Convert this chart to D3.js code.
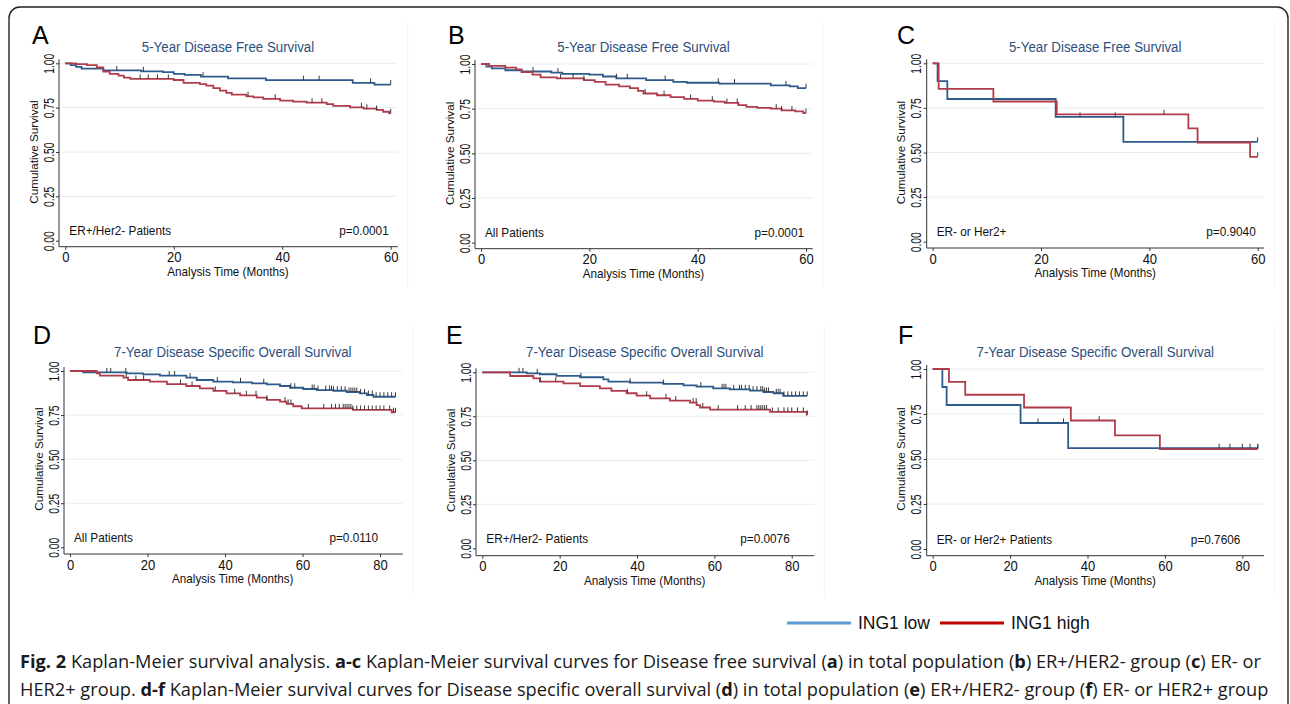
<!DOCTYPE html>
<html>
<head>
<meta charset="utf-8">
<script src="https://cdn.jsdelivr.net/npm/d3@7"></script>
<style>
body { margin: 0; background: #fff; }
svg { display: block; font-family: Arial, "Liberation Sans", sans-serif; }
</style>
</head>
<body>
<svg id="fig" width="1290" height="704"></svg>
<script>
// ---- data: step points [month, survival] and censor times ----
var aLow = [[0,1],[1,0.99],[2,0.98],[3,0.97],[7,0.96],[14,0.955],[18,0.95],[20,0.94],[22,0.935],[25,0.925],[30,0.915],[37,0.905],[53,0.89],[57,0.88]];
var aLowCens = [9.5,14.4,25.4,43.9,46.8,56.3,60];
var aHigh = [[0,1],[2,0.995],[4,0.99],[5.8,0.977],[7,0.953],[8.2,0.94],[9.8,0.93],[10.8,0.919],[12,0.912],[20,0.906],[21.8,0.89],[24.8,0.883],[26,0.874],[27.3,0.86],[28.5,0.846],[29.7,0.833],[30.7,0.823],[33.4,0.814],[34.7,0.808],[36.5,0.8],[39.6,0.79],[42,0.784],[44.5,0.778],[48.2,0.77],[49.4,0.76],[52.5,0.752],[55,0.744],[57.4,0.737],[58.6,0.727],[59.7,0.718]];
var aHighCens = [13.8,15.3,17,19,33.7,38.7,45.5,47.3,54.6,55.6,57.4,60];

var bLow = [[0,1],[1,0.985],[2,0.975],[4.5,0.965],[7.5,0.958],[13,0.952],[15,0.945],[20,0.94],[22.5,0.93],[25,0.92],[30.5,0.91],[35.5,0.9],[38,0.895],[44,0.89],[53.5,0.88],[57,0.875],[58.5,0.865]];
var bLowCens = [9.6,14.2,25,27,34,43.8,46.8,56.3,60];
var bHigh = [[0,1],[1.5,0.99],[4.5,0.98],[6.5,0.97],[7.5,0.955],[9.5,0.94],[11,0.925],[14,0.92],[19,0.91],[21,0.9],[23,0.885],[25.5,0.875],[27.5,0.865],[29,0.85],[30,0.835],[32.5,0.825],[35,0.815],[37.5,0.805],[40,0.795],[43,0.79],[45,0.782],[47.5,0.77],[49,0.76],[51,0.755],[53.5,0.75],[55.5,0.74],[58,0.735],[59.5,0.725]];
var bHighCens = [14.7,17,19,30.3,33.8,38.7,42.7,45.4,47.3,54.5,55.5,57.4,60];

var cLow = [[0,1],[0.9,0.9],[2.7,0.8],[22.7,0.7],[35.2,0.56]];
var cLowCens = [27.2,33.7,60];
var cHigh = [[0,1],[1.1,0.857],[11.2,0.786],[22.9,0.714],[47.2,0.635],[48.9,0.556],[58.6,0.476]];
var cHighCens = [42.7,60];

var dLow = [[0,1],[3.4,0.992],[14.6,0.987],[18.9,0.981],[23.2,0.974],[30,0.962],[32.7,0.949],[37,0.94],[42,0.936],[47,0.93],[50.8,0.924],[54.2,0.915],[56.8,0.905],[60.2,0.898],[63.7,0.892],[68,0.888],[71.4,0.881],[74.8,0.873],[76.6,0.864],[78.3,0.854]];
var dLowCens = [9.5,10.5,14.4,25.6,27,31,38,44,50,57,58,62.5,63,64,66,67,67.5,68,69,70,71,72,72.5,73,73.5,74,75,76,77,78,79,80,81,82,83,84];
var dHigh = [[0,1],[6.9,0.987],[7.7,0.974],[13.8,0.962],[15,0.949],[20.6,0.94],[25,0.926],[30,0.915],[33.5,0.902],[37,0.887],[40.4,0.873],[43.9,0.862],[48.2,0.849],[50.8,0.836],[54.2,0.826],[55.9,0.813],[57.6,0.8],[59.8,0.788],[73,0.779],[83,0.766]];
var dHighCens = [14.5,17,19,28.5,31.5,37.5,42.5,45.5,48,50.8,55.5,56.3,57,61.5,65.5,67.5,68.5,69.5,70.5,71,71.5,72,72.5,73,74,75,76,77,78,79,80,81,82.5,83.5,84];

var eLow = [[0,1],[11.5,0.994],[14.9,0.989],[19.2,0.98],[25.3,0.972],[31.3,0.96],[32.6,0.947],[38.2,0.941],[46.8,0.934],[52,0.926],[55.4,0.919],[59.7,0.909],[64,0.903],[69.2,0.896],[72.7,0.888],[75.3,0.881],[77.8,0.866]];
var eLowCens = [9.5,10.5,14.2,25.5,38.2,46.8,56.5,62,62.5,63,65,66.5,67,68,69,70,71,72,72.5,73,73.5,74,76,76.5,77,78,79,80,81,82,83,84];
var eHigh = [[0,1],[7.2,0.979],[13.2,0.966],[14.9,0.947],[21,0.9375],[25.3,0.922],[30.4,0.909],[33.4,0.894],[37.3,0.881],[39.9,0.867],[43.4,0.852],[48.5,0.839],[53.7,0.828],[55.4,0.814],[56.3,0.8],[58.9,0.788],[74.4,0.775],[83.9,0.758]];
var eHighCens = [15,19,37.5,42.5,47.5,50,54.5,55.3,57,61,66,68,69.5,71,71.5,72,72.5,73,73.5,75,76.5,78,79,80,81.5,83,84];

var fLow = [[0,1],[2.5,0.9],[3.6,0.8],[22.7,0.7],[35,0.56]];
var fLowCens = [27.2,33.8,74,76.8,80,82,84];
var fHigh = [[0,1],[4.2,0.929],[8.4,0.857],[23.6,0.786],[35.7,0.714],[47.1,0.631],[58.7,0.555]];
var fHighCens = [43,84];

var yTicks = [0, 0.25, 0.5, 0.75, 1];
var xTicks5 = [0, 20, 40, 60];
var xTicks7 = [0, 20, 40, 60, 80];
var titles = ["5-Year Disease Free Survival", "7-Year Disease Specific Overall Survival"];
var legendLabels = ["ING1 low", "ING1 high"];

var panels = [
	{ id: "A", title: titles[0], note: "ER+/Her2- Patients", p: "p=0.0001", xMax: 60, pAt: 60, xTicks: xTicks5, low: aLow, lowCens: aLowCens, high: aHigh, highCens: aHighCens },
	{ id: "B", title: titles[0], note: "All Patients", p: "p=0.0001", xMax: 60, pAt: 60, xTicks: xTicks5, low: bLow, lowCens: bLowCens, high: bHigh, highCens: bHighCens },
	{ id: "C", title: titles[0], note: "ER- or Her2+", p: "p=0.9040", xMax: 60, pAt: 60, xTicks: xTicks5, low: cLow, lowCens: cLowCens, high: cHigh, highCens: cHighCens },
	{ id: "D", title: titles[1], note: "All Patients", p: "p=0.0110", xMax: 84, pAt: 80, xTicks: xTicks7, low: dLow, lowCens: dLowCens, high: dHigh, highCens: dHighCens },
	{ id: "E", title: titles[1], note: "ER+/Her2- Patients", p: "p=0.0076", xMax: 84, pAt: 80, xTicks: xTicks7, low: eLow, lowCens: eLowCens, high: eHigh, highCens: eHighCens },
	{ id: "F", title: titles[1], note: "ER- or Her2+ Patients", p: "p=0.7606", xMax: 84, pAt: 80, xTicks: xTicks7, low: fLow, lowCens: fLowCens, high: fHigh, highCens: fHighCens }
];

// ---- layout (pixel frames of each panel) ----
var frames = {
	A: { axisX: 59,    x0: 65.3,  x1: 390.7,  right: 397.7, y1: 63.3,  y0: 240.7, axisY: 246.7, titleY: 52.3,  letter: [32, 44] },
	B: { axisX: 475,   x0: 481,   x1: 806,    right: 812.7, y1: 64,    y0: 242.7, axisY: 248.7, titleY: 52.3,  letter: [448, 44] },
	C: { axisX: 926.7, x0: 932.7, x1: 1257.7, right: 1264,  y1: 63.3,  y0: 241.7, axisY: 248,   titleY: 52.3,  letter: [897, 44] },
	D: { axisX: 64,    x0: 70,    x1: 395.5,  right: 402.7, y1: 371,   y0: 547.3, axisY: 554,   titleY: 356.7, letter: [33, 344] },
	E: { axisX: 476,   x0: 482.3, x1: 807.2,  right: 814.3, y1: 372.3, y0: 548.3, axisY: 555.7, titleY: 356.7, letter: [446, 344] },
	F: { axisX: 926.7, x0: 932.7, x1: 1257.8, right: 1264,  y1: 369,   y0: 549,   axisY: 555.7, titleY: 356.7, letter: [898, 344] }
};

var LOW_COLOR = "#2f5b8c";
var HIGH_COLOR = "#b03c4a";
var TITLE_COLOR = "#2d4e7d";
// the original figure's text is a little taller than it is wide
var TEXT_STRETCH = 1.1;

var svg = d3.select("#fig");

// outer rounded frame
svg.append("rect")
   .attr("x", 9).attr("y", 7)
   .attr("width", 1279).attr("height", 710)
   .attr("rx", 11)
   .attr("fill", "none")
   .attr("stroke", "#222")
   .attr("stroke-width", 1.4);

function survAt(steps, t) {
	var s = 1;
	steps.forEach(function(d) { if (d[0] <= t) s = d[1]; });
	return s;
}

// horizontal text placed at (x, y) baseline, stretched vertically
function tallText(g, x, y, sy) {
	return g.append("text")
	        .attr("transform", "translate(" + x + "," + y + ") scale(1," + sy + ")");
}

function drawPanel(cfg, fr) {
	var x = d3.scaleLinear().domain([0, cfg.xMax]).range([fr.x0, fr.x1]);
	var y = d3.scaleLinear().domain([0, 1]).range([fr.y0, fr.y1]);
	var g = svg.append("g").attr("class", "panel " + cfg.id);

	// faint graph-region edge
	g.append("line")
	 .attr("x1", fr.right + 10).attr("x2", fr.right + 10)
	 .attr("y1", fr.titleY - 30).attr("y2", fr.axisY + 40)
	 .attr("stroke", "#f0f3f5");

	// gridlines
	g.selectAll(".grid")
	 .data(yTicks.filter(function(d) { return d > 0; }))
	 .enter().append("line")
	 .attr("x1", fr.axisX).attr("x2", fr.right)
	 .attr("y1", function(d) { return y(d); })
	 .attr("y2", function(d) { return y(d); })
	 .attr("stroke", "#e5eef0")
	 .attr("stroke-width", 1);

	// y axis
	var yAxis = g.append("g")
	             .attr("transform", "translate(" + fr.axisX + ",0)")
	             .call(d3.axisLeft(y).tickValues(yTicks).tickFormat(d3.format(".2f")).tickSize(3).tickSizeOuter(0));
	yAxis.select(".domain").remove();
	yAxis.selectAll(".tick line").attr("stroke", "#333");
	yAxis.selectAll(".tick text")
	     .attr("transform", "scale(1,0.74) rotate(-90)")
	     .attr("x", 0).attr("y", -5.5).attr("dy", 0)
	     .attr("text-anchor", "middle")
	     .attr("font-size", 14)
	     .attr("font-family", "Arial, 'Liberation Sans', sans-serif")
	     .attr("fill", "#111");
	g.append("line")
	 .attr("x1", fr.axisX).attr("x2", fr.axisX)
	 .attr("y1", fr.y1 - 4).attr("y2", fr.axisY)
	 .attr("stroke", "#333");

	// x axis
	var xAxis = g.append("g")
	             .attr("transform", "translate(0," + fr.axisY + ")")
	             .call(d3.axisBottom(x).tickValues(cfg.xTicks).tickSize(3).tickSizeOuter(0));
	xAxis.select(".domain").remove();
	xAxis.selectAll(".tick line").attr("stroke", "#333");
	xAxis.selectAll(".tick text")
	     .attr("y", 0).attr("dy", 0)
	     .attr("transform", "translate(0,15.6) scale(1," + TEXT_STRETCH + ")")
	     .attr("font-size", 13)
	     .attr("font-family", "Arial, 'Liberation Sans', sans-serif")
	     .attr("fill", "#111");
	g.append("line")
	 .attr("x1", fr.axisX).attr("x2", fr.right)
	 .attr("y1", fr.axisY).attr("y2", fr.axisY)
	 .attr("stroke", "#333");

	// axis titles
	g.append("text")
	 .attr("transform", "translate(" + (fr.axisX - 21.5) + "," + ((fr.y0 + fr.y1) / 2) + ") rotate(-90)")
	 .attr("text-anchor", "middle")
	 .attr("font-size", 11.7)
	 .attr("fill", "#111")
	 .text("Cumulative Survival");
	tallText(g, (fr.x0 + fr.x1) / 2, fr.axisY + 29.2, TEXT_STRETCH)
	 .attr("text-anchor", "middle")
	 .attr("font-size", 11.7)
	 .attr("fill", "#111")
	 .text("Analysis Time (Months)");

	// title and letter
	tallText(g, (fr.x0 + fr.x1) / 2, fr.titleY, 1.13)
	 .attr("text-anchor", "middle")
	 .attr("font-size", 13.3)
	 .attr("fill", TITLE_COLOR)
	 .text(cfg.title);
	g.append("text")
	 .attr("x", fr.letter[0]).attr("y", fr.letter[1])
	 .attr("font-size", 25)
	 .attr("fill", "#000")
	 .text(cfg.id);

	// annotations
	tallText(g, fr.x0 + 4, fr.y0 - 5.5, 1.05)
	 .attr("font-size", 11.8)
	 .attr("fill", "#111")
	 .text(cfg.note);
	tallText(g, x(cfg.pAt) - 2, fr.y0 - 5.5, 1.05)
	 .attr("text-anchor", "end")
	 .attr("font-size", 11.8)
	 .attr("fill", "#111")
	 .text(cfg.p);

	// curves
	var line = d3.line()
	             .x(function(d) { return x(d[0]); })
	             .y(function(d) { return y(d[1]); })
	             .curve(d3.curveStepAfter);

	[[cfg.low, cfg.lowCens, LOW_COLOR], [cfg.high, cfg.highCens, HIGH_COLOR]].forEach(function(grp) {
		var steps = grp[0], cens = grp[1];
		var end = Math.max(steps[steps.length - 1][0], d3.max(cens));
		var pts = steps.concat([[end, steps[steps.length - 1][1]]]);
		g.append("path")
		 .datum(pts)
		 .attr("fill", "none")
		 .attr("stroke", grp[2])
		 .attr("stroke-width", 1.8)
		 .attr("d", line);
		g.selectAll(null)
		 .data(cens)
		 .enter().append("line")
		 .attr("x1", function(d) { return x(d); })
		 .attr("x2", function(d) { return x(d); })
		 .attr("y1", function(d) { return y(survAt(steps, d)); })
		 .attr("y2", function(d) { return y(survAt(steps, d)) - 4.5; })
		 .attr("stroke", "#3a3a3a")
		 .attr("stroke-width", 1);
	});
}

panels.forEach(function(p) { drawPanel(p, frames[p.id]); });

// legend
var legendColors = ["#5b9bd5", "#c00000"];
var legendX = [787, 940];
var leg = svg.append("g");
leg.selectAll("line")
   .data(legendLabels)
   .enter().append("line")
   .attr("x1", function(d, i) { return legendX[i]; })
   .attr("x2", function(d, i) { return legendX[i] + 64; })
   .attr("y1", 623).attr("y2", 623)
   .attr("stroke", function(d, i) { return legendColors[i]; })
   .attr("stroke-width", 3);
leg.selectAll("text")
   .data(legendLabels)
   .enter().append("text")
   .attr("x", function(d, i) { return legendX[i] + 71; })
   .attr("y", 629)
   .attr("font-size", 17.5)
   .attr("fill", "#111")
   .text(function(d) { return d; });

// caption
var captionLines = [
	[["Fig. 2", 1], [" Kaplan-Meier survival analysis. ", 0], ["a-c", 1], [" Kaplan-Meier survival curves for Disease free survival (", 0], ["a", 1], [") in total population (", 0], ["b", 1], [") ER+/HER2- group (", 0], ["c", 1], [") ER- or", 0]],
	[["HER2+ group. ", 0], ["d-f", 1], [" Kaplan-Meier survival curves for Disease specific overall survival (", 0], ["d", 1], [") in total population (", 0], ["e", 1], [") ER+/HER2- group (", 0], ["f", 1], [") ER- or HER2+ group", 0]]
];
var capY = [668, 696];
var capTexts = captionLines.map(function(parts, i) {
	var t = svg.append("text")
	           .attr("x", 20).attr("y", capY[i])
	           .attr("font-family", "'Open Sans', 'Noto Sans', sans-serif")
	           .attr("font-size", 17)
	           .attr("fill", "#1a1a1a");
	t.selectAll("tspan")
	 .data(parts)
	 .enter().append("tspan")
	 .attr("font-weight", function(d) { return d[1] ? "bold" : "normal"; })
	 .text(function(d) { return d[0]; });
	return t;
});
// fit the first line to its width in the figure
var w = capTexts[0].node().getComputedTextLength();
var fs = 17 * 1242 / w;
capTexts.forEach(function(t) { t.attr("font-size", fs); });
</script>
</body>
</html>
